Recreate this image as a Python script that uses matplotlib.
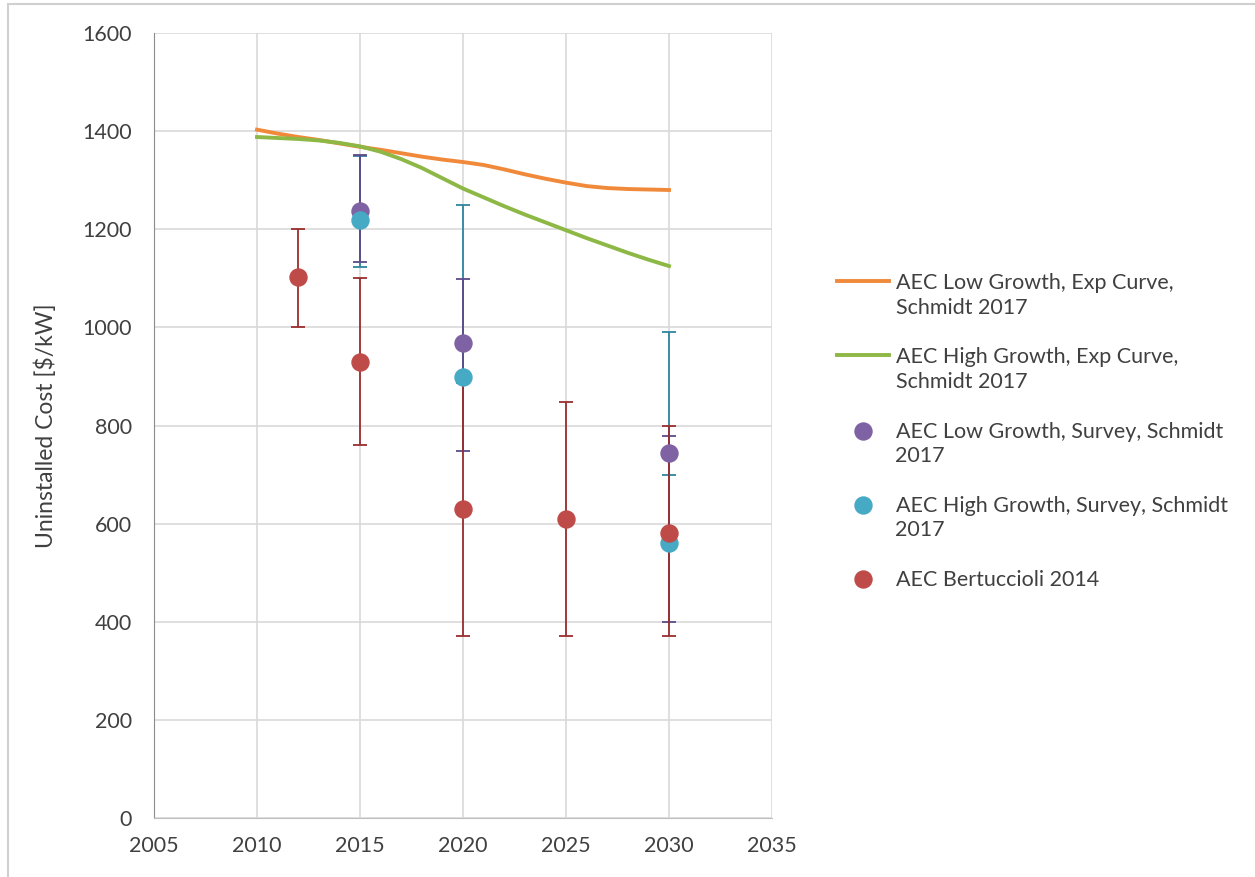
import matplotlib
matplotlib.use("Agg")
import matplotlib.pyplot as plt
from matplotlib.patches import Rectangle

plt.rcParams['font.family'] = ['Lato', 'DejaVu Sans']

# exp curve series (one value per year)
years = list(range(2010, 2031))
low_exp = [1403, 1395, 1388, 1382, 1375, 1368, 1362, 1355, 1348, 1342, 1337,
           1331, 1322, 1312, 1303, 1295, 1288, 1284, 1282, 1281, 1280]
high_exp = [1388, 1386, 1384, 1381, 1376, 1369, 1358, 1343, 1325, 1304, 1283,
            1265, 1247, 1230, 1214, 1198, 1182, 1167, 1152, 1138, 1125]

# survey points with error bar ranges (low/high are absolute values)
survey_years = [2015, 2020, 2030]
low_survey = [1237, 969, 743]
low_survey_min = [1133, 749, 400]
low_survey_max = [1351, 1098, 778]
high_survey = [1218, 898, 561]
high_survey_min = [1123, 886, 700]
high_survey_max = [1350, 1249, 990]

bert_years = [2012, 2015, 2020, 2025, 2030]
bert = [1102, 930, 629, 610, 581]
bert_min = [1000, 760, 370, 370, 370]
bert_max = [1200, 1100, 890, 848, 798]

labels = ["AEC Low Growth, Exp Curve,\nSchmidt 2017",
          "AEC High Growth, Exp Curve,\nSchmidt 2017",
          "AEC Low Growth, Survey, Schmidt\n2017",
          "AEC High Growth, Survey, Schmidt\n2017",
          "AEC Bertuccioli 2014"]

fig = plt.figure(figsize=(12.55, 8.77), dpi=100)
ax = fig.add_axes([154/1255, 1 - 818/877, (772-154)/1255, (818-33)/877])

l1, = ax.plot(years, low_exp, color='#F08A3A', lw=2.8, zorder=3)
l2, = ax.plot(years, high_exp, color='#8DB845', lw=2.8, zorder=3)


def points(x, y, lo, hi, col, ecol, ez, mz):
    mid = [(a + b) / 2 for a, b in zip(lo, hi)]
    half = [(b - a) / 2 for a, b in zip(lo, hi)]
    ax.errorbar(x, mid, yerr=half, fmt='none', ecolor=ecol, elinewidth=1.3,
                capsize=5, capthick=1.3, zorder=ez)
    return ax.scatter(x, y, s=150, color=col, edgecolors=col, zorder=mz)


# excel stacking: cyan bars under purple bars under red bars, markers on top
s1 = points(survey_years, low_survey, low_survey_min, low_survey_max,
            '#7E62A3', '#5E4A8A', 4.2, 5)
s2 = points(survey_years, high_survey, high_survey_min, high_survey_max,
            '#46AAC5', '#2E86A0', 4.1, 5.1)
s3 = points(bert_years, bert, bert_min, bert_max,
            '#BF4B48', '#9A2E2E', 4.3, 5.2)

ax.set_xlim(2005, 2035)
ax.set_ylim(0, 1600)
ax.set_xticks(range(2005, 2036, 5))
ax.set_yticks(range(0, 1601, 200))
ax.grid(True, color='#D9D9D9', lw=1.2)
ax.set_axisbelow(True)
for s in ['top', 'right']:
    ax.spines[s].set_visible(False)
ax.spines['left'].set_color('#8C8C8C')
ax.spines['bottom'].set_color('#BFBFBF')
ax.tick_params(length=0, labelsize=15.5, colors='#404040')
ax.tick_params(axis='x', pad=13)
ax.tick_params(axis='y', pad=16)
ax.set_ylabel('Uninstalled Cost [$/kW]', fontsize=16.5, color='#404040', labelpad=18)

leg = fig.legend([l1, l2, s1, s2, s3], labels, loc='upper left',
                 bbox_to_anchor=(818/1255, 1 - 254/877), frameon=False,
                 fontsize=15.5, labelspacing=1.36, handlelength=2.4,
                 handletextpad=0.3, scatterpoints=1, labelcolor='#404040')
for t in leg.get_texts():
    t.set_linespacing(1.3)
# put the symbol next to the first text line, like excel does
for col in leg._legend_handle_box.get_children():
    for row in col.get_children():
        row.align = 'top'

fig.patches.append(Rectangle((8/1255, -0.1), 1.2, 1 - 4/877 + 0.1,
                             transform=fig.transFigure, fill=False,
                             edgecolor='#D0D0D0', lw=1.5))

fig.savefig('out.png', dpi=100)
